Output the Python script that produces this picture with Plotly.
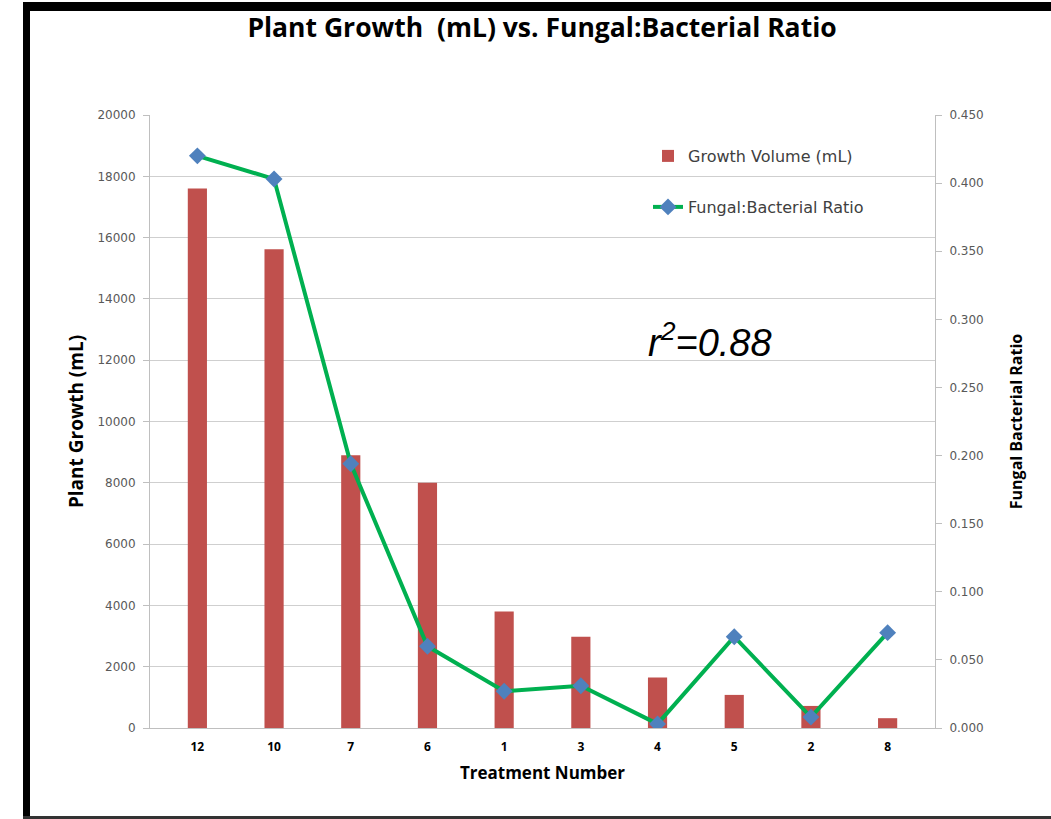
import plotly.graph_objects as go

treatments = ["12", "10", "7", "6", "1", "3", "4", "5", "2", "8"]
growth_volume = [17600, 15620, 8900, 8000, 3800, 2980, 1650, 1080, 720, 320]
fb_ratio = [0.420, 0.403, 0.194, 0.060, 0.027, 0.031, 0.003, 0.067, 0.008, 0.070]

W, H = 1051, 819
L, R, T, B = 150, 935, 115, 728


def px(x):
    return (x - L) / (R - L)


def py(y):
    return (B - y) / (B - T)


fig = go.Figure()
fig.add_trace(go.Bar(
    x=treatments, y=growth_volume, name="Growth Volume (mL)",
    marker=dict(color="#c0504d", line=dict(width=0)), width=0.25,
    showlegend=True,
))
fig.add_trace(go.Scatter(
    x=treatments, y=fb_ratio, name="Fungal:Bacterial Ratio", yaxis="y2",
    mode="lines+markers",
    line=dict(color="#00b050", width=4),
    marker=dict(symbol="diamond", size=13, color="#4f81bd"),
    legend="legend2", showlegend=True,
))

tickfont = dict(family="DejaVu Sans", size=12, color="#595959")

fig.update_layout(
    width=W, height=H,
    showlegend=True,
    margin=dict(l=L, r=W - R, t=T, b=H - B),
    paper_bgcolor="white", plot_bgcolor="white",
    title=dict(text="<b>Plant Growth  (mL) vs. Fungal:Bacterial Ratio</b>",
               x=px(542), xref="paper", xanchor="center",
               y=1 - 28 / H, yanchor="middle",
               font=dict(family="Open Sans", size=26.5, color="#000000")),
    xaxis=dict(type="category", showgrid=False, showline=True, linecolor="#bfbfbf",
               tickfont=dict(family="Open Sans", size=12, color="#000000", weight="bold"),
               ticks="", ticklabelstandoff=8,
               title=dict(text="Treatment Number", font=dict(family="Open Sans", size=17, color="#000000", weight="bold"), standoff=12)),
    yaxis=dict(range=[0, 20000], dtick=2000, tickformat="d", showgrid=True,
               gridcolor="#cfcfcf", gridwidth=1, showline=True, linecolor="#bfbfbf",
               ticks="outside", ticklen=6, tickcolor="#bfbfbf", tickfont=tickfont,
               ticklabelstandoff=5, zeroline=False,
               title=dict(text="Plant Growth (mL)", font=dict(family="Open Sans", size=19, color="#000000", weight="bold"), standoff=8)),
    yaxis2=dict(range=[0, 0.45], dtick=0.05, tickformat=".3f", overlaying="y", side="right",
                showgrid=False, showline=True, linecolor="#bfbfbf",
                ticks="outside", ticklen=6, tickcolor="#bfbfbf", tickfont=tickfont,
                ticklabelstandoff=5, zeroline=False,
                title=dict(text="Fungal Bacterial Ratio", font=dict(family="Open Sans", size=16, color="#000000", weight="bold"), standoff=28)),
    legend=dict(x=px(648), y=py(156), xanchor="left", yanchor="middle",
                bgcolor="rgba(0,0,0,0)", font=dict(family="DejaVu Sans", size=16, color="#404040"),
                itemwidth=30),
    legend2=dict(x=px(648), y=py(207), xanchor="left", yanchor="middle",
                 bgcolor="rgba(0,0,0,0)", font=dict(family="DejaVu Sans", size=16, color="#404040"),
                 itemwidth=30),
    annotations=[dict(text="<i>r<sup>2</sup>=0.88</i>", x=px(710), y=py(340),
                      xref="paper", yref="paper", showarrow=False,
                      xanchor="center", yanchor="middle",
                      font=dict(family="Liberation Sans", size=38, color="#000000"))],
    shapes=[
        dict(type="rect", xref="paper", yref="paper", x0=px(23), x1=px(30), y0=py(819), y1=py(2),
             fillcolor="#000000", line=dict(width=0), layer="above"),
        dict(type="rect", xref="paper", yref="paper", x0=px(23), x1=px(1051), y0=py(11), y1=py(2),
             fillcolor="#000000", line=dict(width=0), layer="above"),
        dict(type="rect", xref="paper", yref="paper", x0=px(23), x1=px(1051), y0=py(819), y1=py(816),
             fillcolor="#333333", line=dict(width=0), layer="above"),
    ],
)

fig.write_html("out.html", config={"displayModeBar": False},
               post_script="document.body.style.margin='0px';document.body.style.overflow='hidden';")
